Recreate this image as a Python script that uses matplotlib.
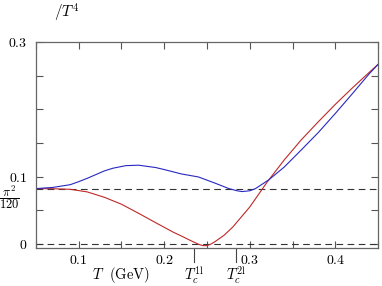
import numpy as np
import matplotlib
matplotlib.use("Agg")
import matplotlib.pyplot as plt

plt.rcParams["mathtext.fontset"] = "cm"
plt.rcParams["font.family"] = "serif"
plt.rcParams["font.serif"] = ["cmr10", "DejaVu Serif"]
plt.rcParams["axes.formatter.use_mathtext"] = True

# temperature grid (GeV) and curves
T_red = [0.05, 0.07, 0.09, 0.11, 0.13, 0.15, 0.17, 0.19, 0.21, 0.22, 0.23,
         0.24, 0.245, 0.25, 0.255, 0.26, 0.27, 0.28, 0.29, 0.30, 0.32, 0.34,
         0.36, 0.38, 0.40, 0.42, 0.44, 0.45]
red = [0.0822, 0.0820, 0.0812, 0.0773, 0.0693, 0.0590, 0.0455, 0.0315, 0.0178,
       0.0118, 0.0055, -0.0005, -0.0025, -0.0025, 0.0000, 0.0040, 0.013,
       0.025, 0.040, 0.055, 0.0915, 0.1245, 0.1545, 0.1815, 0.2075, 0.232,
       0.2555, 0.267]

T_blue = [0.05, 0.07, 0.09, 0.10, 0.11, 0.12, 0.13, 0.14, 0.155, 0.17, 0.19,
          0.20, 0.22, 0.24, 0.26, 0.2756, 0.285, 0.291, 0.30, 0.3066, 0.322,
          0.34, 0.36, 0.38, 0.40, 0.42, 0.44, 0.45]
blue = [0.0822, 0.0840, 0.0880, 0.0925, 0.0975, 0.1030, 0.1085, 0.1125, 0.1163,
        0.1170, 0.1135, 0.1105, 0.1040, 0.0995, 0.0900, 0.0822, 0.0790, 0.0778,
        0.0790, 0.0822, 0.0951, 0.1140, 0.1395, 0.1655, 0.1940, 0.2235, 0.2535,
        0.267]

sb_limit = np.pi**2 / 120
Tc = [0.235, 0.284]
Tc_labels = [r"$T_c^{1\mathrm{l}}$", r"$T_c^{2\mathrm{l}}$"]

fig = plt.figure(figsize=(3.82, 2.86), dpi=100)
ax = fig.add_axes([0.094, 0.133, 0.896, 0.72])

ax.axhline(0, color="#333333", lw=0.8, ls=(0, (6, 4)))
ax.axhline(sb_limit, color="#333333", lw=0.8, ls=(0, (6, 4)))
ax.plot(T_red, red, color="#c02828", lw=0.8)
ax.plot(T_blue, blue, color="#2828c0", lw=0.8)

ax.set_xlim(0.05, 0.45)
ax.set_ylim(-0.006, 0.3)

ax.set_xticks([0.1, 0.2, 0.3, 0.4])
ax.set_xticklabels(["$0.1$", "$0.2$", "$0.3$", "$0.4$"])
ax.set_xticks(np.arange(0.05, 0.451, 0.05), minor=True)
ax.set_yticks([0, 0.1, 0.2, 0.3])
ax.set_yticklabels(["$0$", "$0.1$", "", "$0.3$"])
ax.set_yticks(np.arange(0, 0.31, 0.05), minor=True)
ax.tick_params(which="both", direction="in", top=True, right=True,
               length=5, width=0.8, color="#555555", labelsize=10)
ax.tick_params(axis="x", pad=4)
ax.tick_params(axis="y", pad=6)
for s in ax.spines.values():
    s.set_color("#666666")
    s.set_linewidth(0.9)

# pi^2/120 label on the y axis
ax.text(-0.047, 0.07, r"$\dfrac{\pi^2}{120}$", transform=ax.get_yaxis_transform(),
        ha="right", va="center", fontsize=9)

# critical temperature marks below the axis
for t, lab in zip(Tc, Tc_labels):
    ax.plot([t, t], [0, -0.07], transform=ax.get_xaxis_transform(),
            color="#444444", lw=0.8, clip_on=False)
    ax.text(t, -0.132, lab, transform=ax.get_xaxis_transform(),
            ha="center", va="center", fontsize=10.5)

ax.text(0.149, -0.13, r"$T\ \ (\mathrm{GeV})$", transform=ax.get_xaxis_transform(),
        ha="center", va="center", fontsize=10.5)
fig.text(0.175, 0.955, r"$/T^4$", ha="center", va="center", fontsize=11)

fig.savefig("out.png", dpi=100)
